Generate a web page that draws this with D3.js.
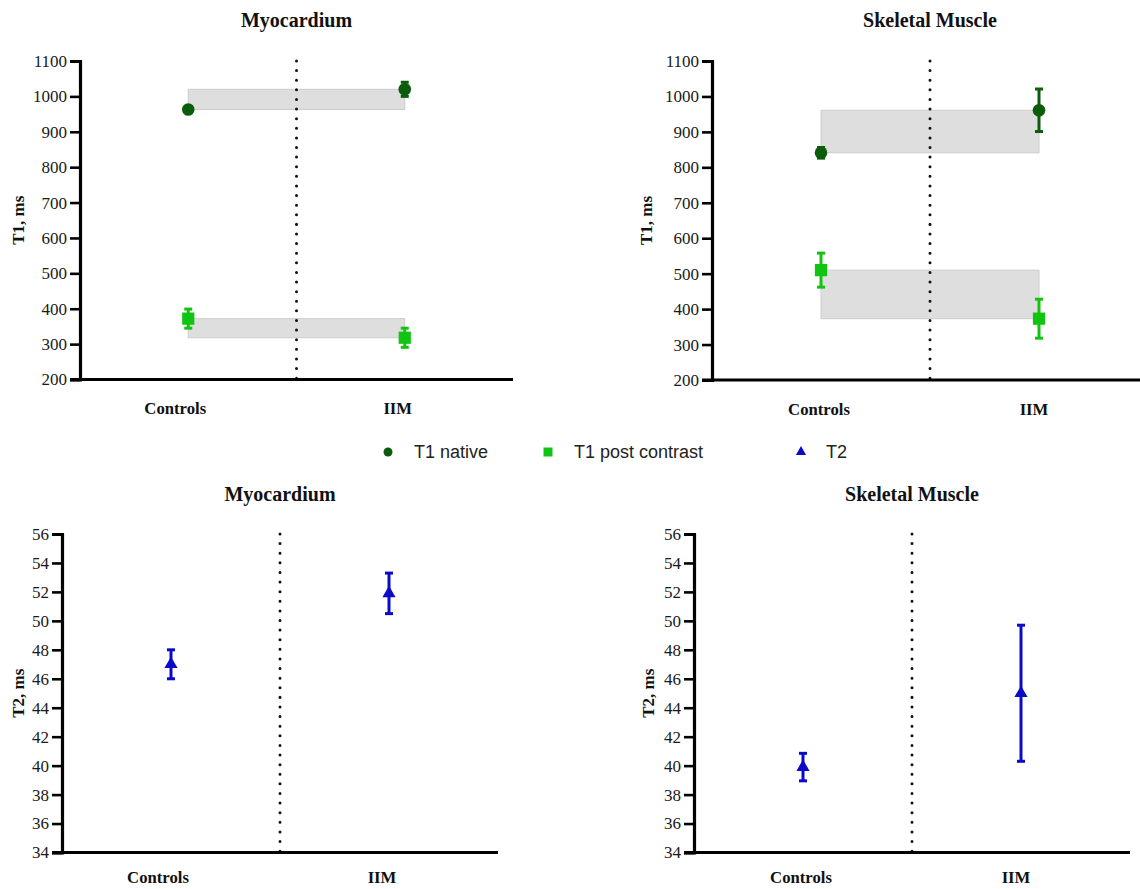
<!DOCTYPE html>
<html>
<head>
<meta charset="utf-8">
<script src="https://cdn.jsdelivr.net/npm/d3@7"></script>
<style>
  html, body { margin: 0; padding: 0; background: #fff; }
  svg { display: block; }
</style>
</head>
<body>
<svg id="chart" width="1140" height="889"></svg>
<script>
// ---------------- data ----------------
const categories = ["Controls", "IIM"];

const t1Ticks = [200, 300, 400, 500, 600, 700, 800, 900, 1000, 1100];
const t2Ticks = [34, 36, 38, 40, 42, 44, 46, 48, 50, 52, 54, 56];

const myoT1Native = [963, 1020];
const myoT1NativeErr = [8, 20];
const myoT1Post = [372, 318];
const myoT1PostErr = [27, 27];

const skT1Native = [841, 961];
const skT1NativeErr = [15, 60];
const skT1Post = [510, 373];
const skT1PostErr = [48, 55];

const myoT2 = [47, 51.9];
const myoT2Err = [1.0, 1.4];
const skT2 = [39.9, 45.0];
const skT2Err = [0.95, 4.7];

const legendLabels = ["T1 native", "T1 post contrast", "T2"];

// ---------------- styles ----------------
const C_NATIVE = "#0b5d0b";
const C_POST = "#11c411";
const C_T2 = "#0a0ac8";
const SERIF = "'Liberation Serif', 'Times New Roman', serif";
const SANS = "'Liberation Sans', Arial, sans-serif";

const svg = d3.select("#chart");

function panel(cfg) {
  const g = svg.append("g");
  const x = d3.scaleBand().domain(categories).range([cfg.left, cfg.right]);
  const cx = c => x(c) + x.bandwidth() / 2;
  const y = d3.scaleLinear().domain([cfg.ticks[0], cfg.ticks[cfg.ticks.length - 1]]).range([cfg.bottom, cfg.top]);

  // title
  g.append("text")
    .attr("x", (cfg.left + cfg.right) / 2)
    .attr("y", cfg.titleY)
    .attr("text-anchor", "middle")
    .attr("font-family", SERIF).attr("font-weight", "bold").attr("font-size", 20)
    .attr("fill", "#111")
    .text(cfg.title);

  // shaded bands between means
  (cfg.bands || []).forEach(b => {
    const y0 = y(b[0]), y1 = y(b[1]);
    g.append("rect")
      .attr("x", cx(categories[0]))
      .attr("y", Math.min(y0, y1))
      .attr("width", cx(categories[1]) - cx(categories[0]))
      .attr("height", Math.abs(y1 - y0))
      .attr("fill", "#dedede").attr("stroke", "#cdcdcd").attr("stroke-width", 1);
  });

  // dotted divider
  const mid = (cfg.left + cfg.right) / 2;
  g.append("line")
    .attr("x1", mid).attr("x2", mid)
    .attr("y1", cfg.top).attr("y2", cfg.bottom)
    .attr("stroke", "#111").attr("stroke-width", 3)
    .attr("stroke-dasharray", "0.01 9.6").attr("stroke-linecap", "round");

  // y axis
  const ya = g.append("g")
    .attr("transform", `translate(${cfg.left},0)`)
    .call(d3.axisLeft(y).tickValues(cfg.ticks).tickSize(10).tickPadding(3).tickFormat(d3.format("d")));
  ya.attr("font-family", SERIF).attr("font-size", 17);
  ya.select(".domain").attr("stroke", "#000").attr("stroke-width", 3.2);
  ya.selectAll(".tick line").attr("stroke", "#000").attr("stroke-width", 2.6);
  ya.selectAll(".tick text")
    .attr("font-family", SERIF).attr("font-size", 17).attr("fill", "#1a1a1a");

  // x axis
  const xa = g.append("g")
    .attr("transform", `translate(0,${cfg.bottom})`)
    .call(d3.axisBottom(x).tickSize(0).tickPadding(cfg.labelPad));
  xa.select(".domain").attr("stroke", "#000").attr("stroke-width", 3.2)
    .attr("d", `M${cfg.left - 10},0H${cfg.right}`);
  xa.selectAll(".tick text")
    .attr("font-family", SERIF).attr("font-weight", "bold").attr("font-size", 16.7)
    .attr("fill", "#111")
    .attr("dx", (d, i) => cfg.labelDx[i]);

  // y title
  g.append("text")
    .attr("transform", `translate(${cfg.yTitleX},${(cfg.top + cfg.bottom) / 2}) rotate(-90)`)
    .attr("text-anchor", "middle")
    .attr("font-family", SERIF).attr("font-weight", "bold").attr("font-size", 17)
    .attr("fill", "#111")
    .text(cfg.yTitle);

  // series
  cfg.series.forEach(s => {
    categories.forEach((c, i) => {
      const v = s.values[i], e = s.errs[i];
      const px = cx(c);
      const capW = 4;
      g.append("line").attr("x1", px).attr("x2", px)
        .attr("y1", y(v - e)).attr("y2", y(v + e))
        .attr("stroke", s.color).attr("stroke-width", 3);
      [v - e, v + e].forEach(w => {
        g.append("line").attr("x1", px - capW).attr("x2", px + capW)
          .attr("y1", y(w)).attr("y2", y(w))
          .attr("stroke", s.color).attr("stroke-width", 3);
      });
      g.append("path")
        .attr("transform", `translate(${px},${y(v)})`)
        .attr("d", d3.symbol().type(s.symbol).size(s.size)())
        .attr("fill", s.color);
    });
  });
}

panel({
  title: "Myocardium", titleY: 27,
  left: 80, right: 513, top: 61, bottom: 379.5,
  ticks: t1Ticks, yTitle: "T1, ms", yTitleX: 24,
  labelDx: [-13, -7], labelPad: 23,
  bands: [[myoT1Native[0], myoT1Native[1]], [myoT1Post[0], myoT1Post[1]]],
  series: [
    { values: myoT1Native, errs: myoT1NativeErr, color: C_NATIVE, symbol: d3.symbolCircle, size: 125 },
    { values: myoT1Post, errs: myoT1PostErr, color: C_POST, symbol: d3.symbolSquare, size: 150 }
  ]
});

panel({
  title: "Skeletal Muscle", titleY: 27,
  left: 712, right: 1148, top: 61, bottom: 380,
  ticks: t1Ticks, yTitle: "T1, ms", yTitleX: 652,
  labelDx: [-2, -5], labelPad: 23,
  bands: [[skT1Native[0], skT1Native[1]], [skT1Post[0], skT1Post[1]]],
  series: [
    { values: skT1Native, errs: skT1NativeErr, color: C_NATIVE, symbol: d3.symbolCircle, size: 125 },
    { values: skT1Post, errs: skT1PostErr, color: C_POST, symbol: d3.symbolSquare, size: 150 }
  ]
});

panel({
  title: "Myocardium", titleY: 501,
  left: 62, right: 498, top: 534, bottom: 852.5,
  ticks: t2Ticks, yTitle: "T2, ms", yTitleX: 24,
  labelDx: [-13, -7], labelPad: 19,
  series: [
    { values: myoT2, errs: myoT2Err, color: C_T2, symbol: d3.symbolTriangle, size: 75 }
  ]
});

panel({
  title: "Skeletal Muscle", titleY: 501,
  left: 694, right: 1130, top: 534, bottom: 852.5,
  ticks: t2Ticks, yTitle: "T2, ms", yTitleX: 654,
  labelDx: [-2, -5], labelPad: 19,
  series: [
    { values: skT2, errs: skT2Err, color: C_T2, symbol: d3.symbolTriangle, size: 75 }
  ]
});

// ---------------- legend ----------------
const legendItems = [
  { label: legendLabels[0], color: C_NATIVE, symbol: d3.symbolCircle, size: 64, x: 388, tx: 414 },
  { label: legendLabels[1], color: C_POST, symbol: d3.symbolSquare, size: 81, x: 548, tx: 574 },
  { label: legendLabels[2], color: C_T2, symbol: d3.symbolTriangle, size: 45, x: 801, tx: 826 }
];
const lg = svg.append("g");
legendItems.forEach(it => {
  lg.append("path")
    .attr("transform", `translate(${it.x},452)`)
    .attr("d", d3.symbol().type(it.symbol).size(it.size)())
    .attr("fill", it.color);
  lg.append("text")
    .attr("x", it.tx).attr("y", 458)
    .attr("font-family", SANS).attr("font-size", 18).attr("fill", "#222")
    .text(it.label);
});
</script>
</body>
</html>
